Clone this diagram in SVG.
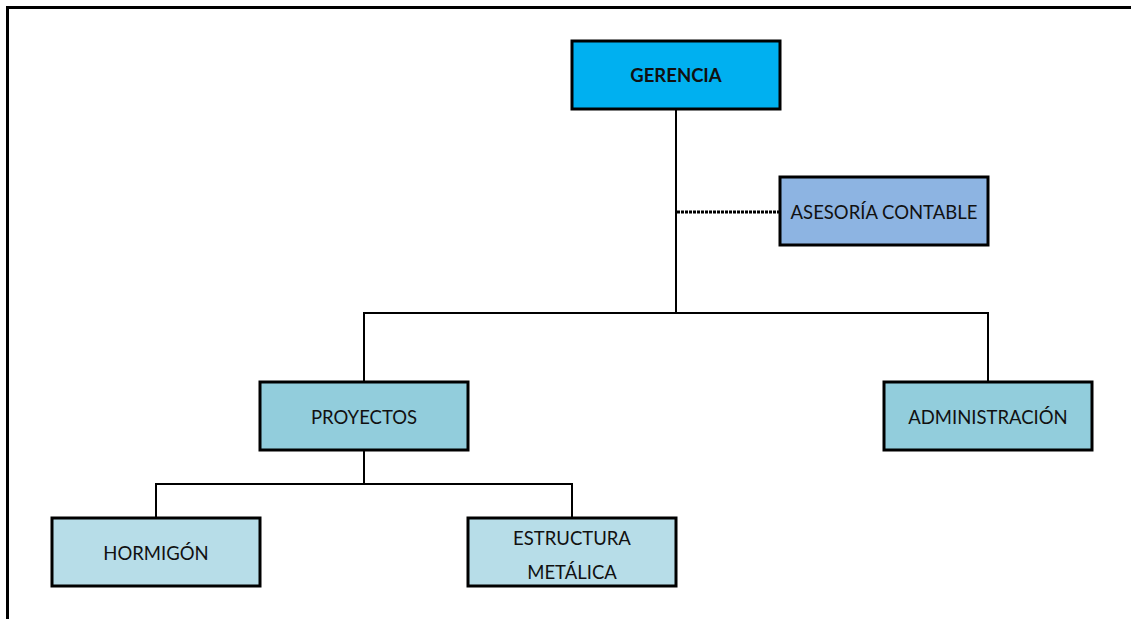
<svg xmlns="http://www.w3.org/2000/svg" width="1132" height="619" viewBox="0 0 1132 619">
<style>
.box{stroke:#000;stroke-width:3}
.t{font-family:Lato,"Open Sans","Liberation Sans",sans-serif;font-size:18.5px;fill:#111;text-anchor:middle;dominant-baseline:central}
.b{font-weight:bold}
.c{fill:none;stroke:#000;stroke-width:2}
</style>
<rect width="1132" height="619" fill="#fff"/>
<path d="M7.5 619 V7.5 H1131" fill="none" stroke="#000" stroke-width="3"/>
<g id="connectors">
<path class="c" d="M676 109 V313 M364 382 V313 H988 V382"/>
<path class="c" d="M364 450 V484 M156 518 V484 H572 V518"/>
<path d="M677 212 H779" fill="none" stroke="#000" stroke-width="3" stroke-dasharray="3 1"/>
</g>
<g id="gerencia"><rect class="box" x="572" y="41" width="208" height="68" fill="#00B0F0"/><text class="t b" x="676" y="75">GERENCIA</text></g>
<g id="asesoria"><rect class="box" x="780" y="177" width="208" height="68" fill="#8DB4E2"/><text class="t" x="884" y="212">ASESORÍA CONTABLE</text></g>
<g id="proyectos"><rect class="box" x="260" y="382" width="208" height="68" fill="#92CDDC"/><text class="t" x="364" y="417">PROYECTOS</text></g>
<g id="administracion"><rect class="box" x="884" y="382" width="208" height="68" fill="#92CDDC"/><text class="t" x="988" y="417">ADMINISTRACIÓN</text></g>
<g id="hormigon"><rect class="box" x="52" y="518" width="208" height="68" fill="#B7DDE8"/><text class="t" x="156" y="553">HORMIGÓN</text></g>
<g id="estructura"><rect class="box" x="468" y="518" width="208" height="68" fill="#B7DDE8"/><text class="t" x="572" y="538">ESTRUCTURA</text><text class="t" x="572" y="572">METÁLICA</text></g>
</svg>
